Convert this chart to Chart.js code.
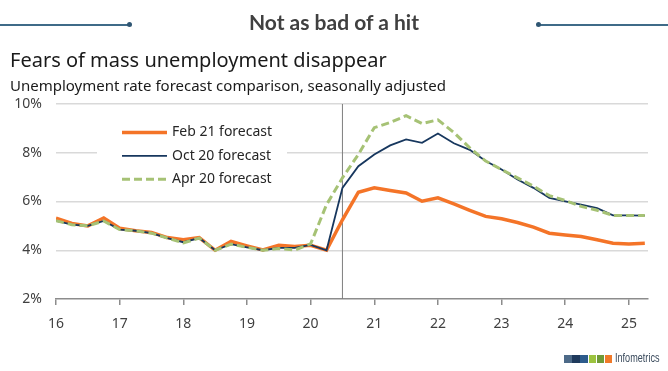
<!DOCTYPE html>
<html>
<head>
<meta charset="utf-8">
<title>Not as bad of a hit</title>
<script src="https://cdn.jsdelivr.net/npm/chart.js@4"></script>
<style>
  html, body { margin: 0; padding: 0; background: #fff; }
  body { width: 668px; height: 371px; position: relative; overflow: hidden; font-family: "Noto Sans", sans-serif; }
  #chart { position: absolute; left: 0; top: 0; }
  .rule { position: absolute; top: 24px; height: 1.5px; background: #3f6b88; }
  .rule i { position: absolute; top: -2px; width: 5px; height: 5px; border-radius: 50%; background: #2f5673; }
  #head { position: absolute; top: 9px; left: 0; width: 668px; text-align: center; font-family: Lato, sans-serif; font-weight: bold; font-size: 21px; color: #404040; }
  #title { position: absolute; top: 46px; left: 10px; font-size: 20px; color: #1a1a1a; }
  #sub { position: absolute; top: 75px; left: 10px; font-size: 15px; color: #1a1a1a; }
  #logo { position: absolute; top: 354px; left: 564px; height: 9px; }
  #logo span { float: left; width: 7.5px; height: 7.5px; margin: 1px 0.7px 0 0; }
  #logo b { position: absolute; left: 51px; top: -3px; font-family: "Liberation Sans", sans-serif; font-weight: normal; font-size: 13px; line-height: 13px; color: #3a4a5c; transform: scaleX(0.7); transform-origin: left top; white-space: nowrap; }
</style>
</head>
<body>
<canvas id="chart" width="668" height="371"></canvas>
<div class="rule" style="left:0;width:130px"><i style="right:-2px"></i></div>
<div class="rule" style="left:538px;width:130px"><i style="left:-2px"></i></div>
<div id="head">Not as bad of a hit</div>
<div id="title">Fears of mass unemployment disappear</div>
<div id="sub">Unemployment rate forecast comparison, seasonally adjusted</div>
<div id="logo">
  <span style="background:#4d6a88"></span><span style="background:#1f3a5c"></span><span style="background:#2d5b8c"></span><span style="background:#9cc33f"></span><span style="background:#6f9a38"></span><span style="background:#f07a2a"></span><b>Infometrics</b>
</div>
<script>
// Trimestres
const quarters = [
    '2016Q1','2016Q2','2016Q3','2016Q4','2017Q1','2017Q2','2017Q3','2017Q4',
    '2018Q1','2018Q2','2018Q3','2018Q4','2019Q1','2019Q2','2019Q3','2019Q4',
    '2020Q1','2020Q2','2020Q3','2020Q4','2021Q1','2021Q2','2021Q3','2021Q4',
    '2022Q1','2022Q2','2022Q3','2022Q4','2023Q1','2023Q2','2023Q3','2023Q4',
    '2024Q1','2024Q2','2024Q3','2024Q4','2025Q1','2025Q2'
];

// Tasa de desempleo (%)
const feb21 = [5.32, 5.1, 5.0, 5.32, 4.9, 4.8, 4.73, 4.52, 4.43, 4.52, 4.0, 4.36, 4.18, 4.01, 4.2, 4.15, 4.2, 4.0,
    5.25, 6.38, 6.56, 6.45, 6.35, 6.01, 6.15, 5.9, 5.64, 5.39, 5.29, 5.14, 4.95, 4.7, 4.63, 4.56, 4.43, 4.29, 4.26, 4.29];
const oct20 = [5.21, 5.05, 5.0, 5.2, 4.85, 4.8, 4.7, 4.5, 4.33, 4.5, 4.0, 4.25, 4.12, 4.0, 4.1, 4.1, 4.22, 4.0,
    6.56, 7.45, 7.93, 8.3, 8.55, 8.41, 8.79, 8.39, 8.12, 7.66, 7.31, 6.9, 6.56, 6.15, 6.01, 5.87, 5.73, 5.43, 5.43, 5.42];
const apr20 = [5.21, 5.05, 5.0, 5.2, 4.85, 4.8, 4.7, 4.5, 4.3, 4.5, 4.0, 4.25, 4.12, 4.0, 4.07, 4.01, 4.26, 5.87,
    6.97, 7.93, 9.03, 9.24, 9.52, 9.2, 9.35, 8.83, 8.2, 7.66, 7.31, 6.97, 6.63, 6.24, 6.04, 5.8, 5.64, 5.43, 5.43, 5.43];

// Etiquetas de los ejes
const yearLabels = ['16', '17', '18', '19', '20', '21', '22', '23', '24', '25'];
const yLabels = ['2%', '4%', '6%', '8%', '10%'];
const forecastStart = '2020Q3';

// '2016Q1' -> 16, '2016Q2' -> 16.25 ...
function qToX(q) {
    return Number(q.slice(2, 4)) + (Number(q.slice(5)) - 1) / 4;
}

function toPoints(values) {
    return values.map((v, i) => ({ x: qToX(quarters[i]), y: v }));
}

const yValues = yLabels.map(l => parseFloat(l));

// Leyenda dentro del área del gráfico
const boxLegend = {
    id: 'boxLegend',
    afterDatasetsDraw(chart) {
        const ctx = chart.ctx;
        const a = chart.chartArea;
        const bx = a.left + 41;
        ctx.save();
        ctx.fillStyle = '#fff';
        ctx.fillRect(bx, a.top + 12, 190, 77);
        ctx.font = '14px "Noto Sans"';
        ctx.textBaseline = 'middle';
        let row = 0;
        chart.data.datasets.forEach(ds => {
            if (!ds.label) return;
            const y = a.top + 28.5 + row * 23.4;
            ctx.strokeStyle = ds.borderColor;
            ctx.lineWidth = ds.borderWidth;
            ctx.setLineDash(ds.borderDash || []);
            ctx.beginPath();
            ctx.moveTo(bx + 25, y);
            ctx.lineTo(bx + 70, y);
            ctx.stroke();
            ctx.setLineDash([]);
            ctx.fillStyle = '#262626';
            ctx.fillText(ds.label, bx + 75, y);
            row++;
        });
        ctx.restore();
    }
};

const ctx = document.getElementById('chart').getContext('2d');
new Chart(ctx, {
    type: 'line',
    data: {
        datasets: [
            { label: 'Feb 21 forecast', data: toPoints(feb21), borderColor: '#f47428', borderWidth: 3.5, order: 3 },
            { label: 'Oct 20 forecast', data: toPoints(oct20), borderColor: '#17375e', borderWidth: 1.8, order: 2 },
            { label: 'Apr 20 forecast', data: toPoints(apr20), borderColor: '#a6c275', borderWidth: 3, borderDash: [8, 4], order: 1 },
            {
                data: [{ x: qToX(forecastStart), y: yValues[0] }, { x: qToX(forecastStart), y: yValues[yValues.length - 1] }],
                borderColor: '#7f7f7f', borderWidth: 1, order: 4
            }
        ]
    },
    options: {
        responsive: false,
        animation: false,
        elements: { point: { radius: 0 }, line: { tension: 0, borderCapStyle: 'butt' } },
        layout: { padding: { top: 104, left: 0, right: 20, bottom: 32 } },
        plugins: { legend: { display: false }, tooltip: { enabled: false } },
        scales: {
            x: {
                type: 'linear',
                min: Number(yearLabels[0]),
                max: 25.3,
                afterBuildTicks: s => { s.ticks = yearLabels.map(l => ({ value: Number(l) })); },
                afterFit: s => { s.height = 40; },
                ticks: { color: '#404040', font: { family: 'Noto Sans', size: 14 }, padding: 11, maxRotation: 0, callback: v => String(v) },
                grid: { drawOnChartArea: false, drawTicks: true, tickLength: 6, color: '#8c8c8c', lineWidth: 1.5 },
                border: { color: '#8c8c8c', width: 1.5 }
            },
            y: {
                min: yValues[0],
                max: yValues[yValues.length - 1],
                afterBuildTicks: s => { s.ticks = yValues.map(v => ({ value: v })); },
                afterFit: s => { s.width = 56; },
                ticks: { color: '#404040', font: { family: 'Noto Sans', size: 14 }, padding: 14, callback: v => v + '%' },
                grid: { drawTicks: false, lineWidth: 1.5, color: c => c.tick && c.tick.value === yValues[0] ? 'rgba(0,0,0,0)' : '#d9d9d9' },
                border: { display: false }
            }
        }
    },
    plugins: [boxLegend]
});
</script>
</body>
</html>
